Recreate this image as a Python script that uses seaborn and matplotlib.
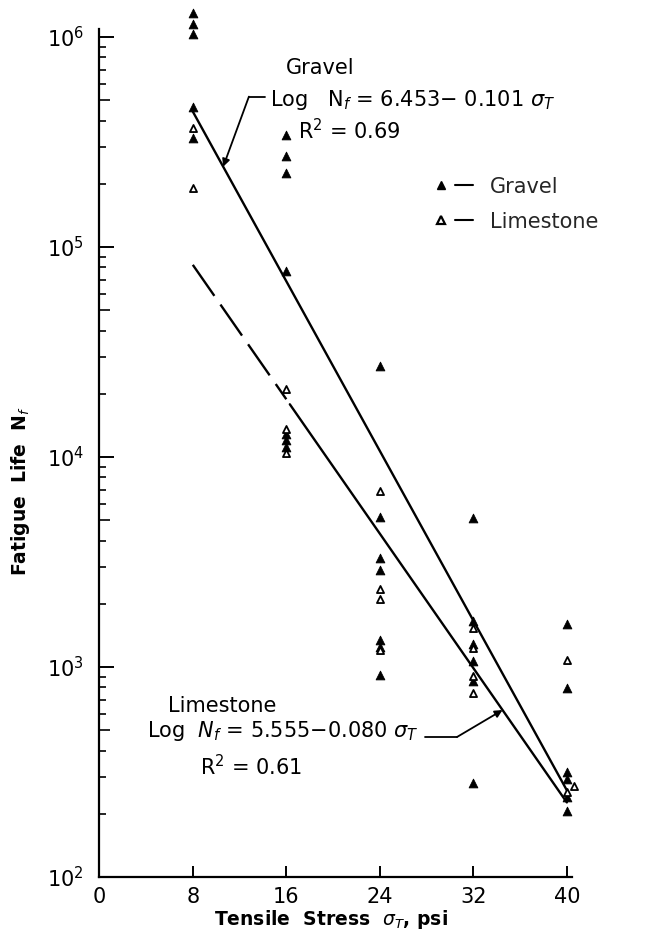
import numpy as np
import pandas as pd
import matplotlib
matplotlib.use("Agg")
import matplotlib.pyplot as plt
import seaborn as sns
from matplotlib.lines import Line2D
from matplotlib.legend_handler import HandlerTuple
from matplotlib.ticker import FixedLocator, LogFormatterMathtext, NullFormatter

# Flexural fatigue tests: tensile stress (psi) and cycles to failure
gravel_stress = [8, 8, 8, 8, 8,
                 16, 16, 16, 16, 16, 16, 16,
                 24, 24, 24, 24, 24, 24, 24,
                 32, 32, 32, 32, 32, 32,
                 40, 40, 40, 40, 40, 40]
gravel_life = [1.3e6, 1.15e6, 1.03e6, 4.65e5, 3.3e5,
               3.4e5, 2.7e5, 2.25e5, 7.7e4, 1.28e4, 1.2e4, 1.12e4,
               2.7e4, 5.2e3, 3.3e3, 2.9e3, 1.34e3, 1.25e3, 920,
               5.1e3, 1.65e3, 1.29e3, 1.07e3, 860, 281,
               1.6e3, 793, 316, 294, 241, 207]

limestone_stress = [8, 8, 16, 16, 16, 24, 24, 24, 24,
                    32, 32, 32, 32, 40, 40.6, 40]
limestone_life = [3.7e5, 1.9e5, 2.1e4, 1.36e4, 1.05e4, 6.9e3, 2.36e3, 2.11e3, 1.2e3,
                  1.53e3, 1.23e3, 906, 748, 1.08e3, 270, 254]

# Regression lines: log Nf = a - b * sigma_T
gravel_coef = (6.453, 0.101)
limestone_coef = (5.555, 0.080)
gravel_range = [8, 40]
limestone_dashed_range = [8, 16]
limestone_solid_range = [16.3, 40]

x_ticks = [0, 8, 16, 24, 32, 40]
y_ticks = [1e2, 1e3, 1e4, 1e5, 1e6]


def fit(coef, s):
    s = np.asarray(s, dtype=float)
    return 10 ** (coef[0] - coef[1] * s)


gravel = pd.DataFrame({"stress": gravel_stress, "life": gravel_life})
limestone = pd.DataFrame({"stress": limestone_stress, "life": limestone_life})

sns.set_theme(style="ticks")
plt.rcParams["font.family"] = ["DejaVu Sans"]
plt.rcParams["mathtext.fontset"] = "dejavusans"

fig = plt.figure(figsize=(6.46, 9.48), dpi=100)
ax = fig.add_axes([0.1537, 0.0749, 0.7310, 0.8945])
ax.set_yscale("log")
ax.set_xlim(0, 40.4)
ax.set_ylim(1e2, 10 ** 6.038)

# fitted lines
sns.lineplot(x=gravel_range, y=fit(gravel_coef, gravel_range), color="black",
             lw=1.7, estimator=None, ax=ax)
sns.lineplot(x=limestone_dashed_range, y=fit(limestone_coef, limestone_dashed_range),
             color="black", lw=1.7, estimator=None, ax=ax, linestyle=(0, (16, 4.5)))
sns.lineplot(x=limestone_solid_range, y=fit(limestone_coef, limestone_solid_range),
             color="black", lw=1.7, estimator=None, ax=ax)

# test results
sns.scatterplot(data=gravel, x="stress", y="life", marker="^", s=40, color="black",
                edgecolor="black", linewidth=0.6, ax=ax, clip_on=False, zorder=3)
sns.scatterplot(data=limestone, x="stress", y="life", marker="^", s=26, color="white",
                edgecolor="black", linewidth=1.3, ax=ax, clip_on=False, zorder=4)

# axes styling
for side in ("top", "right"):
    ax.spines[side].set_visible(False)
for side in ("left", "bottom"):
    ax.spines[side].set_linewidth(1.6)
    ax.spines[side].set_color("black")

ax.xaxis.set_major_locator(FixedLocator(x_ticks))
ax.set_xticklabels([str(t) for t in x_ticks])
ax.yaxis.set_major_locator(FixedLocator(y_ticks))
ax.yaxis.set_major_formatter(LogFormatterMathtext())
minor = [k * 10 ** n for n in range(2, 6) for k in range(2, 10)]
ax.yaxis.set_minor_locator(FixedLocator(minor))
ax.yaxis.set_minor_formatter(NullFormatter())

ax.tick_params(axis="both", which="major", direction="in", width=1.4, color="black",
               labelsize=15, labelcolor="black")
ax.tick_params(axis="y", which="major", length=11, pad=11)
ax.tick_params(axis="x", which="major", length=8, pad=7)
ax.tick_params(axis="y", which="minor", direction="in", length=5, width=1.2, color="black")
for t, loc in zip(ax.yaxis.get_minor_ticks(), minor):
    if round(loc / 10 ** np.floor(np.log10(loc))) == 5:
        t.tick1line.set_markersize(8)

ax.set_xlabel(r"Tensile  Stress  $\sigma_T$, psi", fontsize=13.5, fontweight="bold",
              color="black")
ax.set_ylabel(r"Fatigue  Life  N$_f$", fontsize=13.5, fontweight="bold", color="black")
ax.xaxis.set_label_coords(0.49, -0.036)
ax.yaxis.set_label_coords(-0.142, 0.455)

# equations and leaders
txt = dict(fontsize=15, color="black", va="center")
ax.text(18.9, 7.1e5, "Gravel", ha="center", **txt)
ax.text(14.6, 5.0e5, r"Log   N$_f$ = 6.453$-$ 0.101 $\sigma_T$", ha="left", **txt)
ax.text(21.4, 3.6e5, r"R$^2$ = 0.69", ha="center", **txt)

ax.text(10.5, 654, "Limestone", ha="center", **txt)
ax.text(4.1, 497, r"Log  $N_f$ = 5.555$-$0.080 $\sigma_T$", ha="left", **txt)
ax.text(13.0, 334, r"R$^2$ = 0.61", ha="center", **txt)

arrow = dict(arrowstyle="-|>", color="black", lw=1.3, mutation_scale=11,
             shrinkA=0, shrinkB=0)
ax.plot([12.8, 14.2], [5.2e5, 5.2e5], color="black", lw=1.3)
ax.annotate("", xy=(10.6, fit(gravel_coef, 10.6)), xytext=(12.8, 5.2e5), arrowprops=arrow)
ax.plot([27.9, 30.6], [464, 464], color="black", lw=1.3)
ax.annotate("", xy=(34.5, fit(limestone_coef, 34.5)), xytext=(30.6, 464), arrowprops=arrow)

# legend: marker followed by a short dash
h_g = (Line2D([], [], marker="^", ls="none", color="black", ms=6),
       Line2D([], [], color="black", lw=1.5))
h_l = (Line2D([], [], marker="^", ls="none", color="black", mfc="white", mew=1.6, ms=6),
       Line2D([], [], color="black", lw=1.5))
ax.legend([h_g, h_l], ["Gravel", "Limestone"],
          handler_map={tuple: HandlerTuple(ndivide=None, pad=0.2)},
          loc="upper left", bbox_to_anchor=(0.664, 0.848), frameon=False, fontsize=15,
          handlelength=2.0, handletextpad=0.8, labelspacing=0.72)

fig.savefig("out.png", dpi=100, facecolor="white")
